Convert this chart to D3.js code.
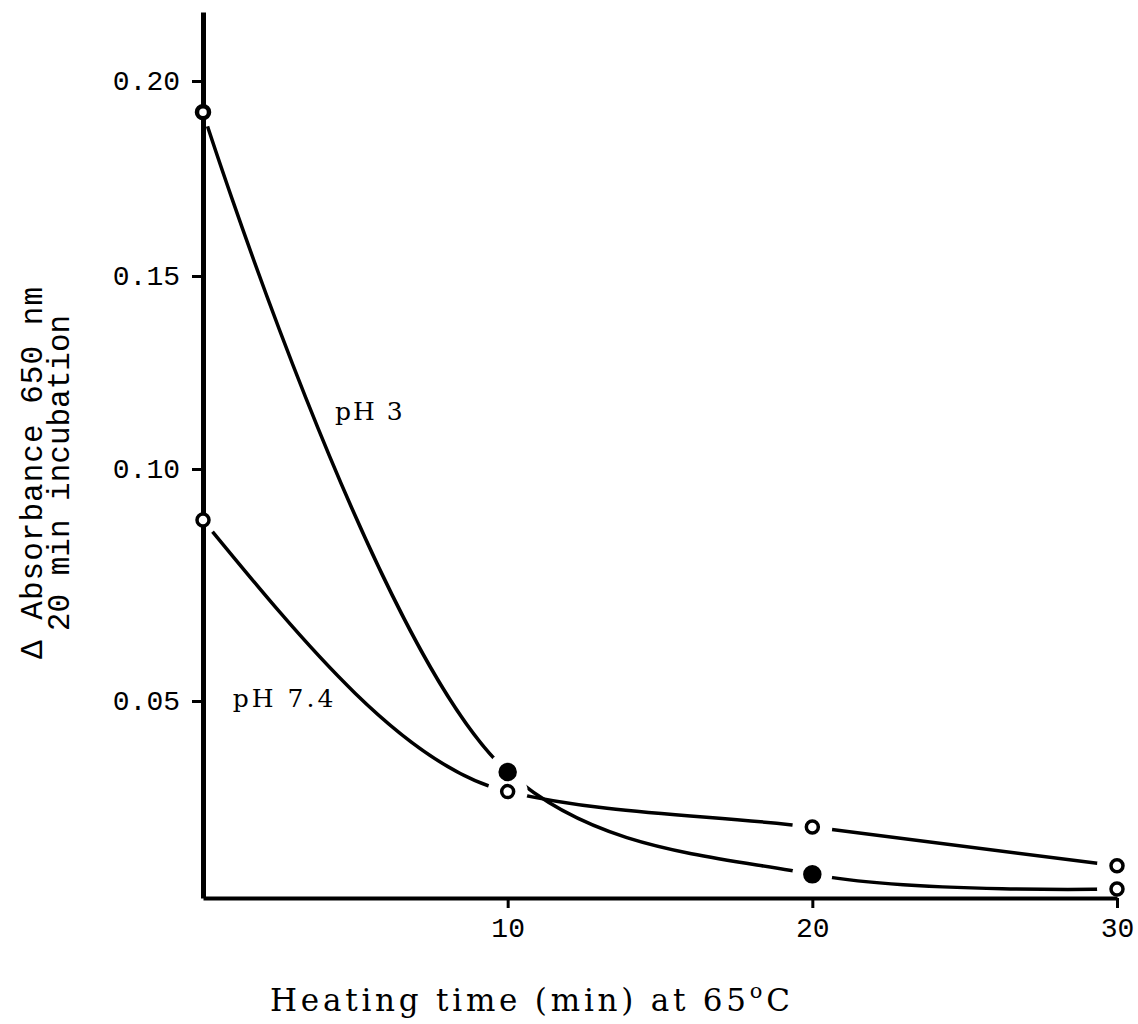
<!DOCTYPE html>
<html>
<head>
<meta charset="utf-8">
<script src="https://cdn.jsdelivr.net/npm/d3@7"></script>
<style>
  body { margin: 0; background: #fff; }
  svg { display: block; }
</style>
</head>
<body>
<div id="chart"></div>
<script>
const width = 1138;
const height = 1024;

// data
const times = [0, 10, 20, 30];
const pH3 = [0.192, 0.032, 0.006, 0.0023];
const pH74 = [0.089, 0.027, 0.018, 0.0082];
const pH3Marker = ["ring", "filled", "filled", "open"];
const pH74Marker = ["open", "open", "open", "open"];

const xTicks = [10, 20, 30];
const yTicks = [0.05, 0.10, 0.15, 0.20];

// hand drawn axis: tick spacing is not even, so map each tick to where it sits
const yDomain = [0, 0.05, 0.10, 0.15, 0.20, 0.218];
const yRange = [898, 701, 469, 276, 81, 12];

const svg = d3.select("#chart")
    .append("svg")
    .attr("width", width)
    .attr("height", height);

const xScale = d3.scaleLinear()
    .domain([0, 30])
    .range([203, 1117]);

const yScale = d3.scaleLinear()
    .domain(yDomain)
    .range(yRange);

const series = [
    { name: "pH 3", values: pH3, markers: pH3Marker, curve: d3.curveCatmullRom.alpha(0.5) },
    { name: "pH 7.4", values: pH74, markers: pH74Marker, curve: d3.curveMonotoneX }
];

// curves
series.forEach(s => {
    const line = d3.line()
        .x(d => xScale(d[0]))
        .y(d => yScale(d[1]))
        .curve(s.curve);
    svg.append("path")
        .datum(times.map((t, i) => [t, s.values[i]]))
        .attr("d", line)
        .attr("fill", "none")
        .attr("stroke", "#000")
        .attr("stroke-width", 3.5);
});

// white gaps around the points
series.forEach(s => {
    svg.selectAll(null)
        .data(times.map((t, i) => [t, s.values[i]]))
        .enter().append("circle")
        .attr("cx", d => xScale(d[0]))
        .attr("cy", d => yScale(d[1]))
        .attr("r", d => d[0] === 0 ? 15 : 20)
        .attr("fill", "#fff");
});

// axes
const yAxis = d3.axisLeft(yScale)
    .tickValues(yTicks)
    .tickFormat(d3.format(".2f"))
    .tickSize(11)
    .tickSizeOuter(0)
    .tickPadding(12);

const xAxis = d3.axisBottom(xScale)
    .tickValues(xTicks)
    .tickSize(10)
    .tickSizeOuter(0)
    .tickPadding(9);

const gy = svg.append("g")
    .attr("transform", `translate(${xScale(0)}, 0)`)
    .call(yAxis);

const gx = svg.append("g")
    .attr("transform", `translate(0, ${yScale(0)})`)
    .call(xAxis);

gy.select(".domain").attr("stroke", "#000").attr("stroke-width", 5);
gx.select(".domain").attr("stroke", "#000").attr("stroke-width", 4);
[gx, gy].forEach(g => {
    g.selectAll(".tick line").attr("stroke", "#000").attr("stroke-width", 3);
    g.selectAll(".tick text")
        .attr("fill", "#000")
        .style("font-family", "'Liberation Mono', monospace")
        .style("font-size", "28px");
});

// markers
series.forEach(s => {
    svg.selectAll(null)
        .data(times.map((t, i) => ({ t: t, v: s.values[i], m: s.markers[i] })))
        .enter().append("circle")
        .attr("cx", d => xScale(d.t))
        .attr("cy", d => yScale(d.v))
        .attr("r", d => d.m === "filled" ? 7.5 : 6)
        .attr("fill", d => d.m === "filled" ? "#000" : "#fff")
        .attr("stroke", "#000")
        .attr("stroke-width", d => d.m === "ring" ? 4.5 : 3.5);
});

// curve labels
const labelFont = g => g
    .style("font-family", "'DejaVu Serif', serif")
    .style("font-size", "25px")
    .style("letter-spacing", "2px");

svg.append("text")
    .attr("x", xScale(4.33))
    .attr("y", yScale(0.1127))
    .call(labelFont)
    .text(series[0].name);

svg.append("text")
    .attr("x", xScale(0.98))
    .attr("y", yScale(0.0485))
    .call(labelFont)
    .style("letter-spacing", "3px")
    .text(series[1].name);

// axis titles
const xTitle = svg.append("text")
    .attr("x", 270)
    .attr("y", 1011)
    .attr("textLength", 520)
    .attr("lengthAdjust", "spacing")
    .style("font-family", "'DejaVu Serif', serif")
    .style("font-size", "31px")
    .text("Heating time (min) at 65");
xTitle.append("tspan")
    .attr("dy", -13)
    .style("font-size", "21px")
    .text("o");
xTitle.append("tspan")
    .attr("dy", 13)
    .text("C");

const yTitle = svg.append("text")
    .attr("transform", "translate(42, 473) rotate(-90)")
    .attr("text-anchor", "middle")
    .style("font-family", "'Liberation Mono', monospace")
    .style("font-size", "31px");
yTitle.append("tspan")
    .attr("x", 0)
    .attr("dy", 0)
    .attr("textLength", 372)
    .attr("lengthAdjust", "spacing")
    .text("\u0394 Absorbance 650 nm");
yTitle.append("tspan")
    .attr("x", 0)
    .attr("dy", 27)
    .text("20 min incubation");
</script>
</body>
</html>
